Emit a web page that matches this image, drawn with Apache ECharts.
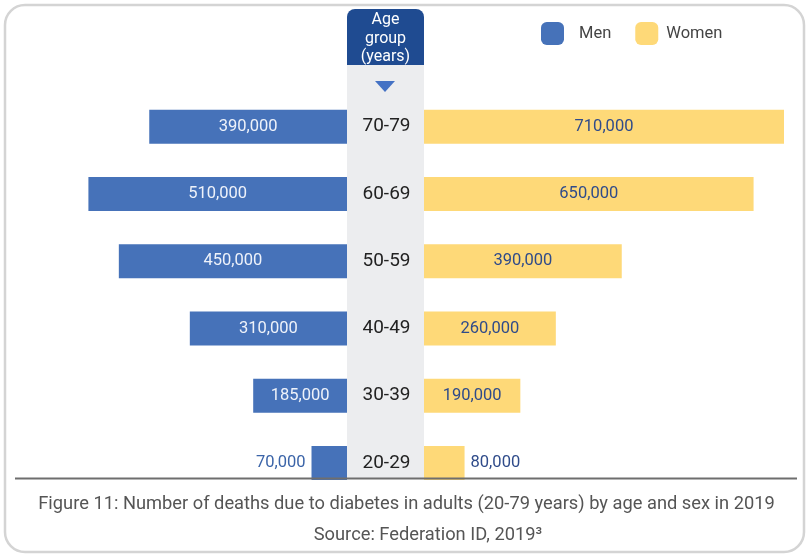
<!DOCTYPE html>
<html>
<head>
<meta charset="utf-8">
<script src="https://cdn.jsdelivr.net/npm/echarts@6/dist/echarts.min.js"></script>
<style>
html,body{margin:0;padding:0;background:#fff;}
#chart{width:809px;height:556px;}
</style>
</head>
<body>
<div id="chart"></div>
<script>
// Data (top row first)
var ageGroups = ['70-79', '60-69', '50-59', '40-49', '30-39', '20-29'];
var menDeaths = [390000, 510000, 450000, 310000, 185000, 70000];
var womenDeaths = [710000, 650000, 390000, 260000, 190000, 80000];
var seriesNames = ['Men', 'Women'];
var headerLines = ['Age', 'group', '(years)'];
var captionLine1 = 'Figure 11: Number of deaths due to diabetes in adults (20-79 years) by age and sex in 2019';
var captionLine2 = 'Source: Federation ID, 2019\u00b3';

var FONT = 'Roboto, "Noto Sans", sans-serif';
var menColor = '#4672b9';
var womenColor = '#fed978';
var menLabelColor = '#eef2fa';
var womenLabelColor = '#2f4b8a';

// layout
var colLeft = 347, colRight = 424;
var rightWidth = 360, leftWidth = colLeft - 15;
var rightMax = 710000;
var leftMax = rightMax * leftWidth / rightWidth; // same px-per-value on both sides
var pxPerValue = rightWidth / rightMax;
var gridTop = 93, gridHeight = 403.6;
var labelFontSize = 16.5;
var minInsidePx = 62; // bars shorter than this get their label outside

var chart = echarts.init(document.getElementById('chart'), null, {renderer: 'canvas'});

function fmt(v) { return v.toLocaleString('en-US'); }

function buildData(values, outsidePos, outsideColor) {
  return values.map(function (v) {
    if (v * pxPerValue < minInsidePx) {
      return {value: v, label: {position: outsidePos, color: outsideColor, distance: 6}};
    }
    return v;
  });
}

var option = {
  animation: false,
  backgroundColor: '#ffffff',
  legend: {
    data: [
      {name: seriesNames[0], textStyle: {padding: [0, 0, 0, 10]}},
      {name: seriesNames[1], textStyle: {padding: [0, 0, 0, 3]}}
    ],
    left: 541,
    top: 22,
    padding: 0,
    itemWidth: 23,
    itemHeight: 23,
    itemGap: 24,
    icon: 'roundRect',
    textStyle: {fontFamily: FONT, fontSize: 16.5, color: '#444'}
  },
  grid: [
    {left: colLeft - leftWidth, width: leftWidth, top: gridTop, height: gridHeight},
    {left: colRight, width: rightWidth, top: gridTop, height: gridHeight}
  ],
  xAxis: [
    {type: 'value', gridIndex: 0, inverse: true, min: 0, max: leftMax, show: false, splitLine: {show: false}},
    {type: 'value', gridIndex: 1, min: 0, max: rightMax, show: false, splitLine: {show: false}}
  ],
  yAxis: [
    {type: 'category', gridIndex: 0, data: ageGroups, inverse: true, show: false},
    {type: 'category', gridIndex: 1, data: ageGroups, inverse: true,
     axisLine: {show: false}, axisTick: {show: false},
     axisLabel: {margin: (colRight - colLeft) / 2 - 1, align: 'center', fontFamily: FONT, fontSize: 19, color: '#222'}}
  ],
  series: [
    {name: seriesNames[0], type: 'bar', xAxisIndex: 0, yAxisIndex: 0,
     data: buildData(menDeaths, 'left', '#3b64a8'), barWidth: 34,
     itemStyle: {color: menColor},
     label: {show: true, position: 'inside', formatter: function (p) { return fmt(p.value); },
             fontFamily: FONT, fontSize: labelFontSize, color: menLabelColor}},
    {name: seriesNames[1], type: 'bar', xAxisIndex: 1, yAxisIndex: 1,
     data: buildData(womenDeaths, 'right', womenLabelColor), barWidth: 34,
     itemStyle: {color: womenColor},
     label: {show: true, position: 'inside', formatter: function (p) { return fmt(p.value); },
             fontFamily: FONT, fontSize: labelFontSize, color: womenLabelColor}}
  ],
  graphic: [
    {type: 'rect', z: -20, silent: true, shape: {x: 5, y: 5, width: 799, height: 547, r: 20},
     style: {fill: 'none', stroke: '#d4d4d4', lineWidth: 2.5}},
    {type: 'rect', z: -10, silent: true, shape: {x: colLeft, y: 64, width: colRight - colLeft, height: 414},
     style: {fill: '#ecedef'}},
    {type: 'rect', z: -5, silent: true, shape: {x: colLeft, y: 9, width: colRight - colLeft, height: 56, r: [8, 8, 0, 0]},
     style: {fill: '#1f4b91'}},
    {type: 'text', z: 5, silent: true, style: {text: headerLines[0], x: 385.5, y: 19.5, textAlign: 'center', textVerticalAlign: 'middle', fill: '#fff', font: '16px ' + FONT}},
    {type: 'text', z: 5, silent: true, style: {text: headerLines[1], x: 385.5, y: 38.5, textAlign: 'center', textVerticalAlign: 'middle', fill: '#fff', font: '16px ' + FONT}},
    {type: 'text', z: 5, silent: true, style: {text: headerLines[2], x: 385.5, y: 57, textAlign: 'center', textVerticalAlign: 'middle', fill: '#fff', font: '16px ' + FONT}},
    {type: 'polygon', z: 5, silent: true, shape: {points: [[375, 81], [395, 81], [385, 92]]}, style: {fill: '#4472c4'}},
    {type: 'line', z: 10, silent: true, shape: {x1: 15, y1: 478.5, x2: 797, y2: 478.5}, style: {stroke: '#6e6e6e', lineWidth: 2}},
    {type: 'text', z: 5, silent: true, style: {text: captionLine1, x: 406.5, y: 504, textAlign: 'center', textVerticalAlign: 'middle', fill: '#555', font: '18.3px ' + FONT}},
    {type: 'text', z: 5, silent: true, style: {text: captionLine2, x: 428, y: 535, textAlign: 'center', textVerticalAlign: 'middle', fill: '#555', font: '18.3px ' + FONT}}
  ]
};
chart.setOption(option);
</script>
</body>
</html>
